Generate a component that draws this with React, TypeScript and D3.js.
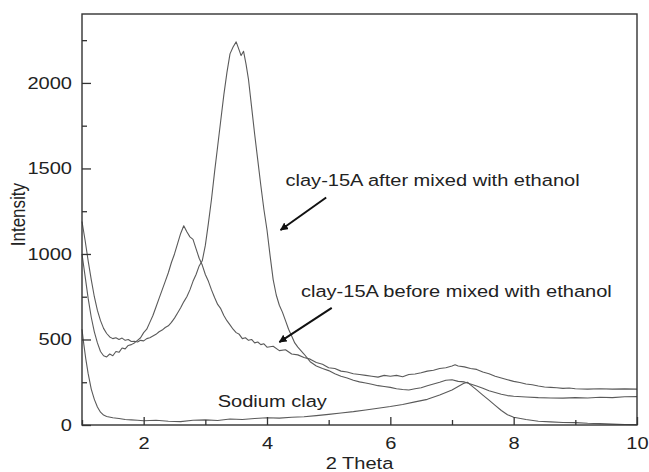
import React, { useEffect, useRef } from 'react';
import * as d3 from 'd3';

type Pt = [number, number];

// clay-15A before mixed with ethanol (peak near 2.65)
const beforeSeries: Pt[] = [
  [1.0, 1000], [1.05, 870], [1.1, 740], [1.15, 630], [1.2, 545], [1.25, 480], [1.3, 430],
  [1.35, 405], [1.4, 398], [1.45, 415], [1.5, 405], [1.55, 430], [1.6, 425], [1.65, 450],
  [1.7, 445], [1.75, 465], [1.8, 470], [1.85, 480], [1.9, 495], [1.95, 510], [2.0, 540],
  [2.05, 560], [2.1, 600], [2.15, 640], [2.2, 690], [2.25, 740], [2.3, 790], [2.35, 840],
  [2.4, 890], [2.45, 950], [2.5, 1000], [2.55, 1060], [2.6, 1120], [2.65, 1165], [2.7, 1130],
  [2.75, 1100], [2.8, 1085], [2.85, 1030], [2.9, 975], [2.95, 935], [3.0, 880], [3.05, 840],
  [3.1, 790], [3.15, 745], [3.2, 705], [3.25, 680], [3.3, 640], [3.35, 610], [3.4, 585],
  [3.45, 560], [3.5, 540], [3.55, 530], [3.6, 505], [3.65, 510], [3.7, 495], [3.75, 500],
  [3.8, 480], [3.85, 485], [3.9, 470], [3.95, 475], [4.0, 455], [4.1, 460], [4.2, 435],
  [4.3, 440], [4.4, 415], [4.5, 410], [4.6, 395], [4.7, 385], [4.8, 365], [4.9, 355],
  [5.0, 335], [5.1, 330], [5.2, 315], [5.3, 310], [5.4, 300], [5.5, 295], [5.6, 290],
  [5.7, 285], [5.8, 280], [5.9, 290], [6.0, 285], [6.1, 290], [6.2, 282], [6.3, 295],
  [6.4, 298], [6.5, 305], [6.6, 315], [6.7, 320], [6.8, 330], [6.9, 335], [7.0, 345],
  [7.05, 352], [7.1, 345], [7.2, 340], [7.3, 330], [7.4, 325], [7.5, 310], [7.6, 300],
  [7.7, 285], [7.8, 275], [7.9, 265], [8.0, 255], [8.1, 248], [8.2, 240], [8.3, 235],
  [8.4, 228], [8.5, 222], [8.6, 220], [8.7, 218], [8.8, 214], [8.9, 216], [9.0, 212],
  [9.2, 210], [9.4, 212], [9.6, 210], [9.8, 211], [10.0, 210],
];

// clay-15A after mixed with ethanol (peak near 3.5)
const afterSeries: Pt[] = [
  [1.0, 1190], [1.05, 1080], [1.1, 960], [1.15, 850], [1.2, 750], [1.25, 670], [1.3, 610],
  [1.35, 565], [1.4, 535], [1.45, 515], [1.5, 505], [1.55, 510], [1.6, 500], [1.65, 508],
  [1.7, 495], [1.75, 500], [1.8, 488], [1.85, 490], [1.9, 485], [1.95, 495], [2.0, 492],
  [2.05, 505], [2.1, 510], [2.15, 520], [2.2, 530], [2.25, 545], [2.3, 555], [2.35, 570],
  [2.4, 580], [2.45, 600], [2.5, 625], [2.55, 655], [2.6, 685], [2.65, 720], [2.7, 750],
  [2.75, 790], [2.8, 840], [2.85, 880], [2.9, 930], [2.95, 960], [3.0, 1050], [3.05, 1180],
  [3.1, 1320], [3.15, 1480], [3.2, 1630], [3.25, 1780], [3.3, 1930], [3.35, 2060],
  [3.4, 2170], [3.45, 2210], [3.5, 2240], [3.55, 2190], [3.58, 2160], [3.62, 2185],
  [3.66, 2110], [3.7, 2020], [3.75, 1860], [3.8, 1700], [3.85, 1550], [3.9, 1400],
  [3.95, 1260], [4.0, 1140], [4.05, 990], [4.1, 850], [4.15, 760], [4.2, 700], [4.25, 660],
  [4.3, 610], [4.35, 560], [4.4, 520], [4.45, 480], [4.5, 455], [4.6, 415], [4.7, 370],
  [4.8, 345], [4.9, 330], [5.0, 318], [5.1, 300], [5.2, 285], [5.3, 275], [5.4, 262],
  [5.5, 252], [5.6, 246], [5.7, 238], [5.8, 230], [5.9, 225], [6.0, 220], [6.1, 212],
  [6.2, 208], [6.3, 205], [6.4, 212], [6.5, 218], [6.6, 230], [6.7, 240], [6.8, 250],
  [6.9, 262], [7.0, 265], [7.1, 255], [7.2, 252], [7.3, 240], [7.4, 228], [7.5, 215],
  [7.6, 200], [7.7, 190], [7.8, 180], [7.9, 172], [8.0, 168], [8.2, 164], [8.4, 160],
  [8.6, 158], [8.8, 157], [9.0, 160], [9.2, 158], [9.4, 162], [9.6, 160], [9.8, 165],
  [10.0, 166],
];

// Sodium clay
const sodiumSeries: Pt[] = [
  [1.0, 560], [1.03, 470], [1.06, 390], [1.1, 300], [1.15, 210], [1.2, 150], [1.25, 105],
  [1.3, 75], [1.35, 58], [1.4, 50], [1.5, 42], [1.6, 38], [1.7, 32], [1.8, 30], [1.9, 28],
  [2.0, 25], [2.2, 28], [2.4, 22], [2.6, 20], [2.8, 28], [3.0, 30], [3.2, 26], [3.4, 35],
  [3.6, 32], [3.8, 38], [4.0, 42], [4.2, 40], [4.4, 45], [4.6, 48], [4.8, 55], [5.0, 62],
  [5.2, 70], [5.4, 78], [5.6, 88], [5.8, 98], [6.0, 108], [6.2, 120], [6.4, 135],
  [6.6, 150], [6.8, 175], [7.0, 205], [7.1, 225], [7.2, 245], [7.25, 250], [7.3, 235],
  [7.4, 205], [7.5, 175], [7.6, 145], [7.7, 115], [7.8, 85], [7.9, 60], [8.0, 45],
  [8.2, 32], [8.4, 22], [8.6, 18], [8.8, 15], [9.0, 14], [9.2, 10], [9.4, 8], [9.6, 5],
  [9.8, 3], [10.0, 2],
];

const xMajor = [2, 4, 6, 8, 10];
const xMinor = [1, 3, 5, 7, 9];
const yMajor = [0, 500, 1000, 1500, 2000];
const yMinor = [250, 750, 1250, 1750, 2250];

// annotations: label, text position and optional arrow (from -> to), in data units
const notes: { label: string; tx: number; ty: number; arrow?: [number, number, number, number] }[] = [
  { label: 'clay-15A after mixed with ethanol', tx: 4.3, ty: 1400, arrow: [4.96, 1330, 4.22, 1140] },
  { label: 'clay-15A before mixed with ethanol', tx: 4.55, ty: 750, arrow: [5.05, 685, 4.2, 485] },
  { label: 'Sodium clay', tx: 3.2, ty: 105 },
];

const App: React.FC = () => {
  const ref = useRef<SVGSVGElement | null>(null);

  useEffect(() => {
    const W = 649;
    const H = 472;
    const margin = { top: 14, right: 12, bottom: 47, left: 82 };
    const width = W - margin.left - margin.right;
    const height = H - margin.top - margin.bottom;
    const font = 'Liberation Sans, Arial, Helvetica, sans-serif';
    const fs = 17;
    const stretch = 1.18;

    const root = d3.select(ref.current).attr('width', W).attr('height', H);
    root.selectAll('*').remove();

    root
      .append('defs')
      .append('marker')
      .attr('id', 'ah')
      .attr('viewBox', '0 0 10 10')
      .attr('refX', 9)
      .attr('refY', 5)
      .attr('markerWidth', 4)
      .attr('markerHeight', 4)
      .attr('orient', 'auto')
      .append('path')
      .attr('d', 'M0,0 L10,5 L0,10 Z')
      .attr('fill', '#111');

    const svg = root.append('g').attr('transform', `translate(${margin.left},${margin.top})`);

    const x = d3.scaleLinear().domain([1, 10]).range([0, width]);
    const y = d3.scaleLinear().domain([0, 2403]).range([height, 0]);

    const line = d3
      .line<Pt>()
      .x((d) => x(d[0]))
      .y((d) => y(d[1]));

    [sodiumSeries, beforeSeries, afterSeries].forEach((s) => {
      svg
        .append('path')
        .datum(s)
        .attr('d', line)
        .attr('fill', 'none')
        .attr('stroke', '#5a5a5a')
        .attr('stroke-width', 1.1)
        .attr('stroke-linejoin', 'round');
    });

    // frame
    svg
      .append('rect')
      .attr('x', 0)
      .attr('y', 0)
      .attr('width', width)
      .attr('height', height)
      .attr('fill', 'none')
      .attr('stroke', '#333')
      .attr('stroke-width', 1.4);

    const xAxis = svg
      .append('g')
      .attr('transform', `translate(0,${height})`)
      .call(d3.axisBottom(x).tickValues(xMajor).tickSizeInner(-8).tickSizeOuter(0).tickPadding(12));
    svg
      .append('g')
      .attr('transform', `translate(0,${height})`)
      .call(d3.axisBottom(x).tickValues(xMinor).tickSizeInner(-5).tickSizeOuter(0).tickFormat(() => ''));

    const yAxis = svg
      .append('g')
      .call(
        d3
          .axisLeft(y)
          .tickValues(yMajor)
          .tickSizeInner(-9)
          .tickSizeOuter(0)
          .tickFormat(d3.format('d'))
      );
    svg
      .append('g')
      .call(d3.axisLeft(y).tickValues(yMinor).tickSizeInner(-5).tickSizeOuter(0).tickFormat(() => ''));

    svg.selectAll('.domain').remove();
    svg.selectAll('.tick line').attr('stroke', '#333').attr('stroke-width', 1.3);

    const styleText = (sel: d3.Selection<any, any, any, any>) =>
      sel.attr('font-family', font).attr('font-size', fs).attr('fill', '#222');
    styleText(xAxis.selectAll('.tick text'));
    styleText(yAxis.selectAll('.tick text'));
    xAxis.selectAll('.tick text').attr('transform', `scale(${stretch},1)`).attr('x', 0);
    yAxis
      .selectAll('.tick text')
      .attr('x', null)
      .attr('transform', `translate(-10,0) scale(${stretch},1)`);

    // axis titles
    svg
      .append('text')
      .attr('transform', `translate(${width / 2},${height + 44}) scale(${stretch},1)`)
      .attr('text-anchor', 'middle')
      .attr('font-family', font)
      .attr('font-size', fs)
      .attr('fill', '#222')
      .text('2 Theta');

    svg
      .append('text')
      .attr('transform', `translate(-57,${y(1230)}) rotate(-90) scale(1,${stretch})`)
      .attr('text-anchor', 'middle')
      .attr('font-family', font)
      .attr('font-size', fs)
      .attr('fill', '#222')
      .text('Intensity');

    // annotations
    notes.forEach((n) => {
      svg
        .append('text')
        .attr('transform', `translate(${x(n.tx)},${y(n.ty)}) scale(${stretch},1)`)
        .attr('font-family', font)
        .attr('font-size', fs)
        .attr('fill', '#222')
        .text(n.label);
      if (n.arrow) {
        const [x1, y1, x2, y2] = n.arrow;
        svg
          .append('line')
          .attr('x1', x(x1))
          .attr('y1', y(y1))
          .attr('x2', x(x2))
          .attr('y2', y(y2))
          .attr('stroke', '#111')
          .attr('stroke-width', 2)
          .attr('marker-end', 'url(#ah)');
      }
    });
  }, []);

  return (
    <svg ref={ref} style={{ position: 'absolute', left: 0, top: 0, background: '#fff' }} />
  );
};

export default App;
